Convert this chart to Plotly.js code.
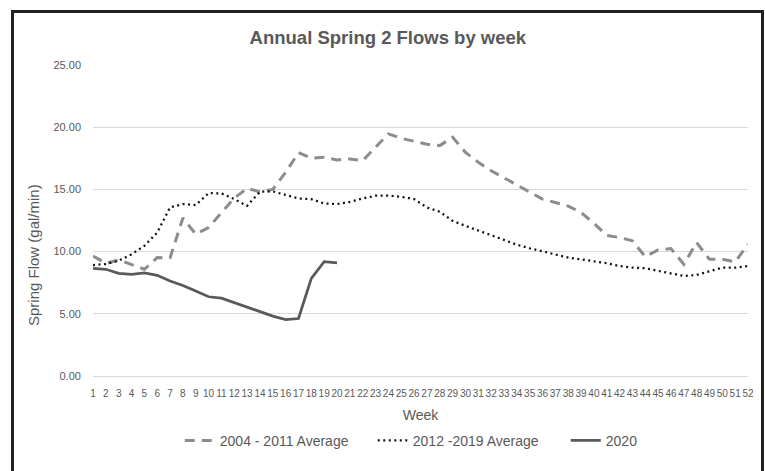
<!DOCTYPE html>
<html>
<head>
<meta charset="utf-8">
<script src="https://cdn.plot.ly/plotly-3.0.1.min.js"></script>
<style>
  html, body { margin: 0; padding: 0; background: #ffffff; }
  #wrap { position: relative; width: 765px; height: 471px; overflow: hidden; }
  #frame { position: absolute; left: 11px; top: 10px; width: 753px; height: 500px; border: 3px solid #222222; box-sizing: border-box; }
  #chart { position: absolute; left: 0; top: 0; width: 765px; height: 471px; }
</style>
</head>
<body>
<div id="wrap">
  <div id="frame"></div>
  <div id="chart"></div>
</div>
<script>
const weeks = Array.from({length: 52}, (_, i) => String(i + 1));

const avg2004_2011 = [9.65, 9.06, 9.33, 8.98, 8.58, 9.52, 9.50, 12.7, 11.4, 11.94,
  13.1, 14.3, 15.08, 14.8, 15.0, 16.37, 17.95, 17.5, 17.58, 17.37,
  17.45, 17.31, 18.39, 19.46, 19.11, 18.87, 18.63, 18.52, 19.19, 17.98,
  17.18, 16.5, 15.92, 15.4, 14.81, 14.22, 13.95, 13.66, 13.15, 12.28,
  11.3, 11.13, 10.86, 9.6, 10.13, 10.24, 8.98, 10.73, 9.38, 9.38,
  9.17, 10.59];

const avg2012_2019 = [8.92, 9.0, 9.27, 9.78, 10.46, 11.53, 13.55, 13.82, 13.74, 14.7,
  14.68, 14.22, 13.68, 14.81, 14.84, 14.54, 14.27, 14.22, 13.87, 13.82,
  14.0, 14.27, 14.49, 14.49, 14.41, 14.22, 13.55, 13.2, 12.47, 12.07,
  11.72, 11.32, 10.94, 10.55, 10.27, 10.0, 9.78, 9.52, 9.38, 9.25,
  9.06, 8.84, 8.71, 8.66, 8.44, 8.25, 8.04, 8.12, 8.44, 8.71,
  8.71, 8.84];

const year2020 = [8.66, 8.58, 8.25, 8.17, 8.28, 8.09, 7.63, 7.28, 6.83, 6.37,
  6.26, 5.89, 5.56, 5.19, 4.81, 4.54, 4.62, 7.85, 9.19, 9.09];

const yTicks = [0, 5, 10, 15, 20, 25];
const yTickText = ["0.00", "5.00", "10.00", "15.00", "20.00", "25.00"];

const txt = '#595959';
const fontFam = '"Liberation Sans", "DejaVu Sans", sans-serif';

const traces = [
  {
    x: weeks, y: avg2004_2011, type: 'scatter', mode: 'lines',
    name: '2004 - 2011 Average',
    line: {color: '#8c8c8c', width: 3, dash: '10px,7px'}
  },
  {
    x: weeks, y: avg2012_2019, type: 'scatter', mode: 'lines',
    name: '2012 -2019 Average',
    line: {color: '#111111', width: 2.25, dash: '2px,3.5px'}
  },
  {
    x: weeks.slice(0, year2020.length), y: year2020, type: 'scatter', mode: 'lines',
    name: '2020',
    line: {color: '#595959', width: 2.75}
  }
];

const layout = {
  width: 765, height: 471,
  margin: {l: 93, r: 17, t: 65, b: 95, autoexpand: false},
  paper_bgcolor: 'rgba(0,0,0,0)',
  plot_bgcolor: 'rgba(0,0,0,0)',
  font: {family: fontFam, color: txt},
  showlegend: true,
  title: {
    text: '<b>Annual Spring 2 Flows by week</b>',
    font: {size: 18.5, color: txt, family: fontFam},
    x: 0.507, xref: 'container', xanchor: 'center',
    y: 0.921, yref: 'container', yanchor: 'middle'
  },
  xaxis: {
    type: 'category',
    tickmode: 'array', tickvals: weeks, ticktext: weeks,
    tickangle: 0,
    tickfont: {size: 10, color: txt, family: fontFam},
    ticks: '', ticklabelstandoff: 8,
    showgrid: false, zeroline: false,
    showline: true, linecolor: '#d9d9d9', linewidth: 1,
    title: {text: 'Week', font: {size: 14, color: txt, family: fontFam}, standoff: 12},
    fixedrange: true
  },
  yaxis: {
    range: [0, 25],
    tickmode: 'array', tickvals: yTicks, ticktext: yTickText,
    tickfont: {size: 11, color: txt, family: fontFam},
    ticks: '', ticklabelstandoff: 11,
    showgrid: true, gridcolor: '#d9d9d9', gridwidth: 1,
    zeroline: false, showline: false,
    fixedrange: true
  },
  annotations: [{
    text: 'Spring Flow (gal/min)',
    textangle: -90,
    xref: 'paper', yref: 'paper',
    x: -0.0916, y: 0.389,
    xanchor: 'center', yanchor: 'middle',
    showarrow: false,
    font: {size: 15, color: txt, family: fontFam}
  }],
  legend: {
    orientation: 'h',
    xref: 'container', yref: 'container',
    x: 0.235, xanchor: 'left',
    y: 0.064, yanchor: 'middle',
    entrywidth: 148, entrywidthmode: 'pixels',
    font: {size: 14, color: txt, family: fontFam},
    bgcolor: 'rgba(0,0,0,0)'
  }
};

Plotly.newPlot('chart', traces, layout, {displayModeBar: false, staticPlot: true});
</script>
</body>
</html>
